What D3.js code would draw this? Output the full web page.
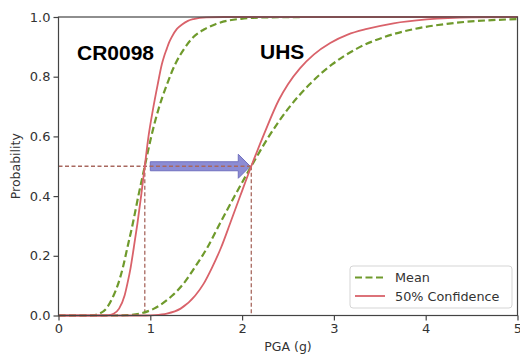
<!DOCTYPE html>
<html>
<head>
<meta charset="utf-8">
<script src="https://cdn.jsdelivr.net/npm/d3@7"></script>
<style>
  html, body { margin: 0; padding: 0; background: #fff; }
  svg { display: block; }
</style>
</head>
<body>
<div id="chart"></div>
<script>
// values (PGA in g, probability of failure)
const crMeanPga = [0, 0.30, 0.38, 0.44, 0.52, 0.60, 0.65, 0.70, 0.75, 0.81, 0.87, 0.94, 1.01, 1.09, 1.18, 1.27, 1.37, 1.47, 1.59, 1.71, 1.99, 2.31, 2.8, 5];
const crMeanProb = [0, 0, 0.001, 0.006, 0.023, 0.067, 0.106, 0.159, 0.227, 0.309, 0.401, 0.5, 0.599, 0.692, 0.773, 0.841, 0.894, 0.933, 0.959, 0.976, 0.994, 0.999, 1, 1];

const crConfPga = [0, 0.50, 0.55, 0.60, 0.66, 0.72, 0.75, 0.785, 0.82, 0.86, 0.90, 0.94, 0.98, 1.03, 1.08, 1.125, 1.15, 1.18, 1.205, 1.23, 1.29, 1.35, 1.41, 1.47, 1.61, 1.8, 5];
const crConfProb = [0, 0, 0.001, 0.006, 0.023, 0.067, 0.106, 0.159, 0.227, 0.309, 0.401, 0.5, 0.599, 0.692, 0.773, 0.841, 0.868, 0.894, 0.915, 0.931, 0.960, 0.976, 0.987, 0.993, 0.999, 1, 1];

const uhsMeanPga = [0, 0.60, 0.74, 0.88, 1.04, 1.24, 1.36, 1.48, 1.62, 1.76, 1.92, 2.10, 2.29, 2.50, 2.73, 2.98, 3.25, 3.55, 3.88, 4.23, 5.0];
const uhsMeanProb = [0, 0, 0.001, 0.006, 0.023, 0.067, 0.106, 0.159, 0.227, 0.309, 0.401, 0.5, 0.599, 0.692, 0.773, 0.841, 0.894, 0.933, 0.960, 0.977, 0.993];

const uhsConfPga = [0, 0.95, 1.05, 1.18, 1.33, 1.49, 1.58, 1.67, 1.77, 1.87, 1.98, 2.10, 2.25, 2.40, 2.50, 2.63, 2.78, 2.96, 3.15, 3.36, 3.65, 4.01, 4.5, 5];
const uhsConfProb = [0, 0, 0.001, 0.006, 0.023, 0.067, 0.106, 0.159, 0.227, 0.309, 0.401, 0.5, 0.616, 0.722, 0.775, 0.828, 0.874, 0.913, 0.941, 0.960, 0.979, 0.992, 0.999, 1];

// median capacities (50% crossing) for the two cases
const medians = [0.94, 2.10];

const xTicks = [0, 1, 2, 3, 4, 5];
const yTicks = [0, 0.2, 0.4, 0.6, 0.8, 1.0];
const legendLabels = ['Mean', '50% Confidence'];

const width = 520;
const height = 356;
const plotLeft = 58.5, plotRight = 517.5, plotTop = 17, plotBottom = 315.5;

const green = '#6f9a2c';
const red = '#d9626a';
const refColor = '#a8685f';
const textColor = '#333';

const svg = d3.select('#chart')
  .append('svg')
  .attr('width', width)
  .attr('height', height)
  .style('font-family', '"DejaVu Sans", sans-serif');

const x = d3.scaleLinear().domain([0, 5]).range([plotLeft, plotRight]);
const y = d3.scaleLinear().domain([0, 1]).range([plotBottom, plotTop]);

const zip = (xs, ys) => xs.map((v, i) => [v, ys[i]]);
const line = d3.line().x(d => x(d[0])).y(d => y(d[1])).curve(d3.curveMonotoneX);

// arrow from CR0098 median to UHS median
const ay = y(0.5);
const ax0 = x(1.0), ax1 = x(medians[1]) - 1, headLen = 12, shaft = 4.5, head = 12;
svg.append('path')
  .attr('d', `M${ax0},${ay - shaft} L${ax1 - headLen},${ay - shaft} L${ax1 - headLen},${ay - head}
              L${ax1},${ay} L${ax1 - headLen},${ay + head} L${ax1 - headLen},${ay + shaft} L${ax0},${ay + shaft} Z`)
  .attr('fill', '#8080cf')
  .attr('fill-opacity', 0.9)
  .attr('stroke', '#7070bf')
  .attr('stroke-width', 1);

// reference dashed lines at 50%
svg.append('line')
  .attr('x1', x(0)).attr('x2', x(medians[1]))
  .attr('y1', y(0.5)).attr('y2', y(0.5))
  .attr('stroke', refColor).attr('stroke-width', 1.3).attr('stroke-dasharray', '4,2.5');

svg.selectAll('line.vref')
  .data(medians)
  .enter()
  .append('line')
  .attr('class', 'vref')
  .attr('x1', d => x(d)).attr('x2', d => x(d))
  .attr('y1', y(0.5)).attr('y2', y(0))
  .attr('stroke', refColor).attr('stroke-width', 1.3).attr('stroke-dasharray', '4,2.5');

// fragility curves
[[crMeanPga, crMeanProb], [uhsMeanPga, uhsMeanProb]].forEach(([px, py]) => {
  svg.append('path')
    .attr('d', line(zip(px, py)))
    .attr('fill', 'none')
    .attr('stroke', green)
    .attr('stroke-width', 2.2)
    .attr('stroke-dasharray', '7,3.5');
});
[[crConfPga, crConfProb], [uhsConfPga, uhsConfProb]].forEach(([px, py]) => {
  svg.append('path')
    .attr('d', line(zip(px, py)))
    .attr('fill', 'none')
    .attr('stroke', red)
    .attr('stroke-width', 1.8);
});

// axes
const xAxis = svg.append('g')
  .attr('transform', `translate(0,${plotBottom})`)
  .call(d3.axisBottom(x).tickValues(xTicks).tickFormat(d3.format('d')).tickSize(5).tickPadding(3));
const yAxis = svg.append('g')
  .attr('transform', `translate(${plotLeft},0)`)
  .call(d3.axisLeft(y).tickValues(yTicks).tickFormat(d3.format('.1f')).tickSize(5).tickPadding(3));

[xAxis, yAxis].forEach(g => {
  g.selectAll('path.domain').remove();
  g.selectAll('line').attr('stroke', '#444').attr('stroke-width', 1.2);
  g.selectAll('text')
    .attr('font-size', '13px')
    .attr('fill', textColor)
    .attr('font-family', '"DejaVu Sans", sans-serif');
});

// spines on all four sides
svg.append('rect')
  .attr('x', plotLeft).attr('y', plotTop)
  .attr('width', plotRight - plotLeft).attr('height', plotBottom - plotTop)
  .attr('fill', 'none')
  .attr('stroke', '#444')
  .attr('stroke-width', 1.2);

svg.append('text')
  .attr('x', (plotLeft + plotRight) / 2)
  .attr('y', 351)
  .attr('text-anchor', 'middle')
  .attr('font-size', '12.5px')
  .attr('fill', textColor)
  .text('PGA (g)');

svg.append('text')
  .attr('transform', `translate(20,${(plotTop + plotBottom) / 2}) rotate(-90)`)
  .attr('text-anchor', 'middle')
  .attr('font-size', '12.5px')
  .attr('fill', textColor)
  .text('Probability');

// case labels
svg.append('text')
  .attr('x', 77).attr('y', 60)
  .attr('font-family', '"Liberation Sans", Arial, sans-serif')
  .attr('font-weight', 'bold')
  .attr('font-size', '21px')
  .attr('fill', '#000')
  .text('CR0098');
svg.append('text')
  .attr('x', 260).attr('y', 59)
  .attr('font-family', '"Liberation Sans", Arial, sans-serif')
  .attr('font-weight', 'bold')
  .attr('font-size', '21px')
  .attr('fill', '#000')
  .text('UHS');

// legend
const legend = svg.append('g').attr('transform', 'translate(350,266)');
legend.append('rect')
  .attr('width', 162).attr('height', 42)
  .attr('rx', 3)
  .attr('fill', '#fff').attr('fill-opacity', 0.85)
  .attr('stroke', '#d5d5d5');
const items = legend.selectAll('g.item')
  .data(legendLabels)
  .enter()
  .append('g')
  .attr('class', 'item')
  .attr('transform', (d, i) => `translate(0,${11.5 + i * 18.5})`);
items.append('line')
  .attr('x1', 5).attr('x2', 35)
  .attr('stroke', (d, i) => i === 0 ? green : red)
  .attr('stroke-width', (d, i) => i === 0 ? 2.2 : 1.8)
  .attr('stroke-dasharray', (d, i) => i === 0 ? '7,3.5' : null);
items.append('text')
  .attr('x', 45).attr('y', 4.5)
  .attr('font-size', '12.8px')
  .attr('fill', textColor)
  .text(d => d);
</script>
</body>
</html>
